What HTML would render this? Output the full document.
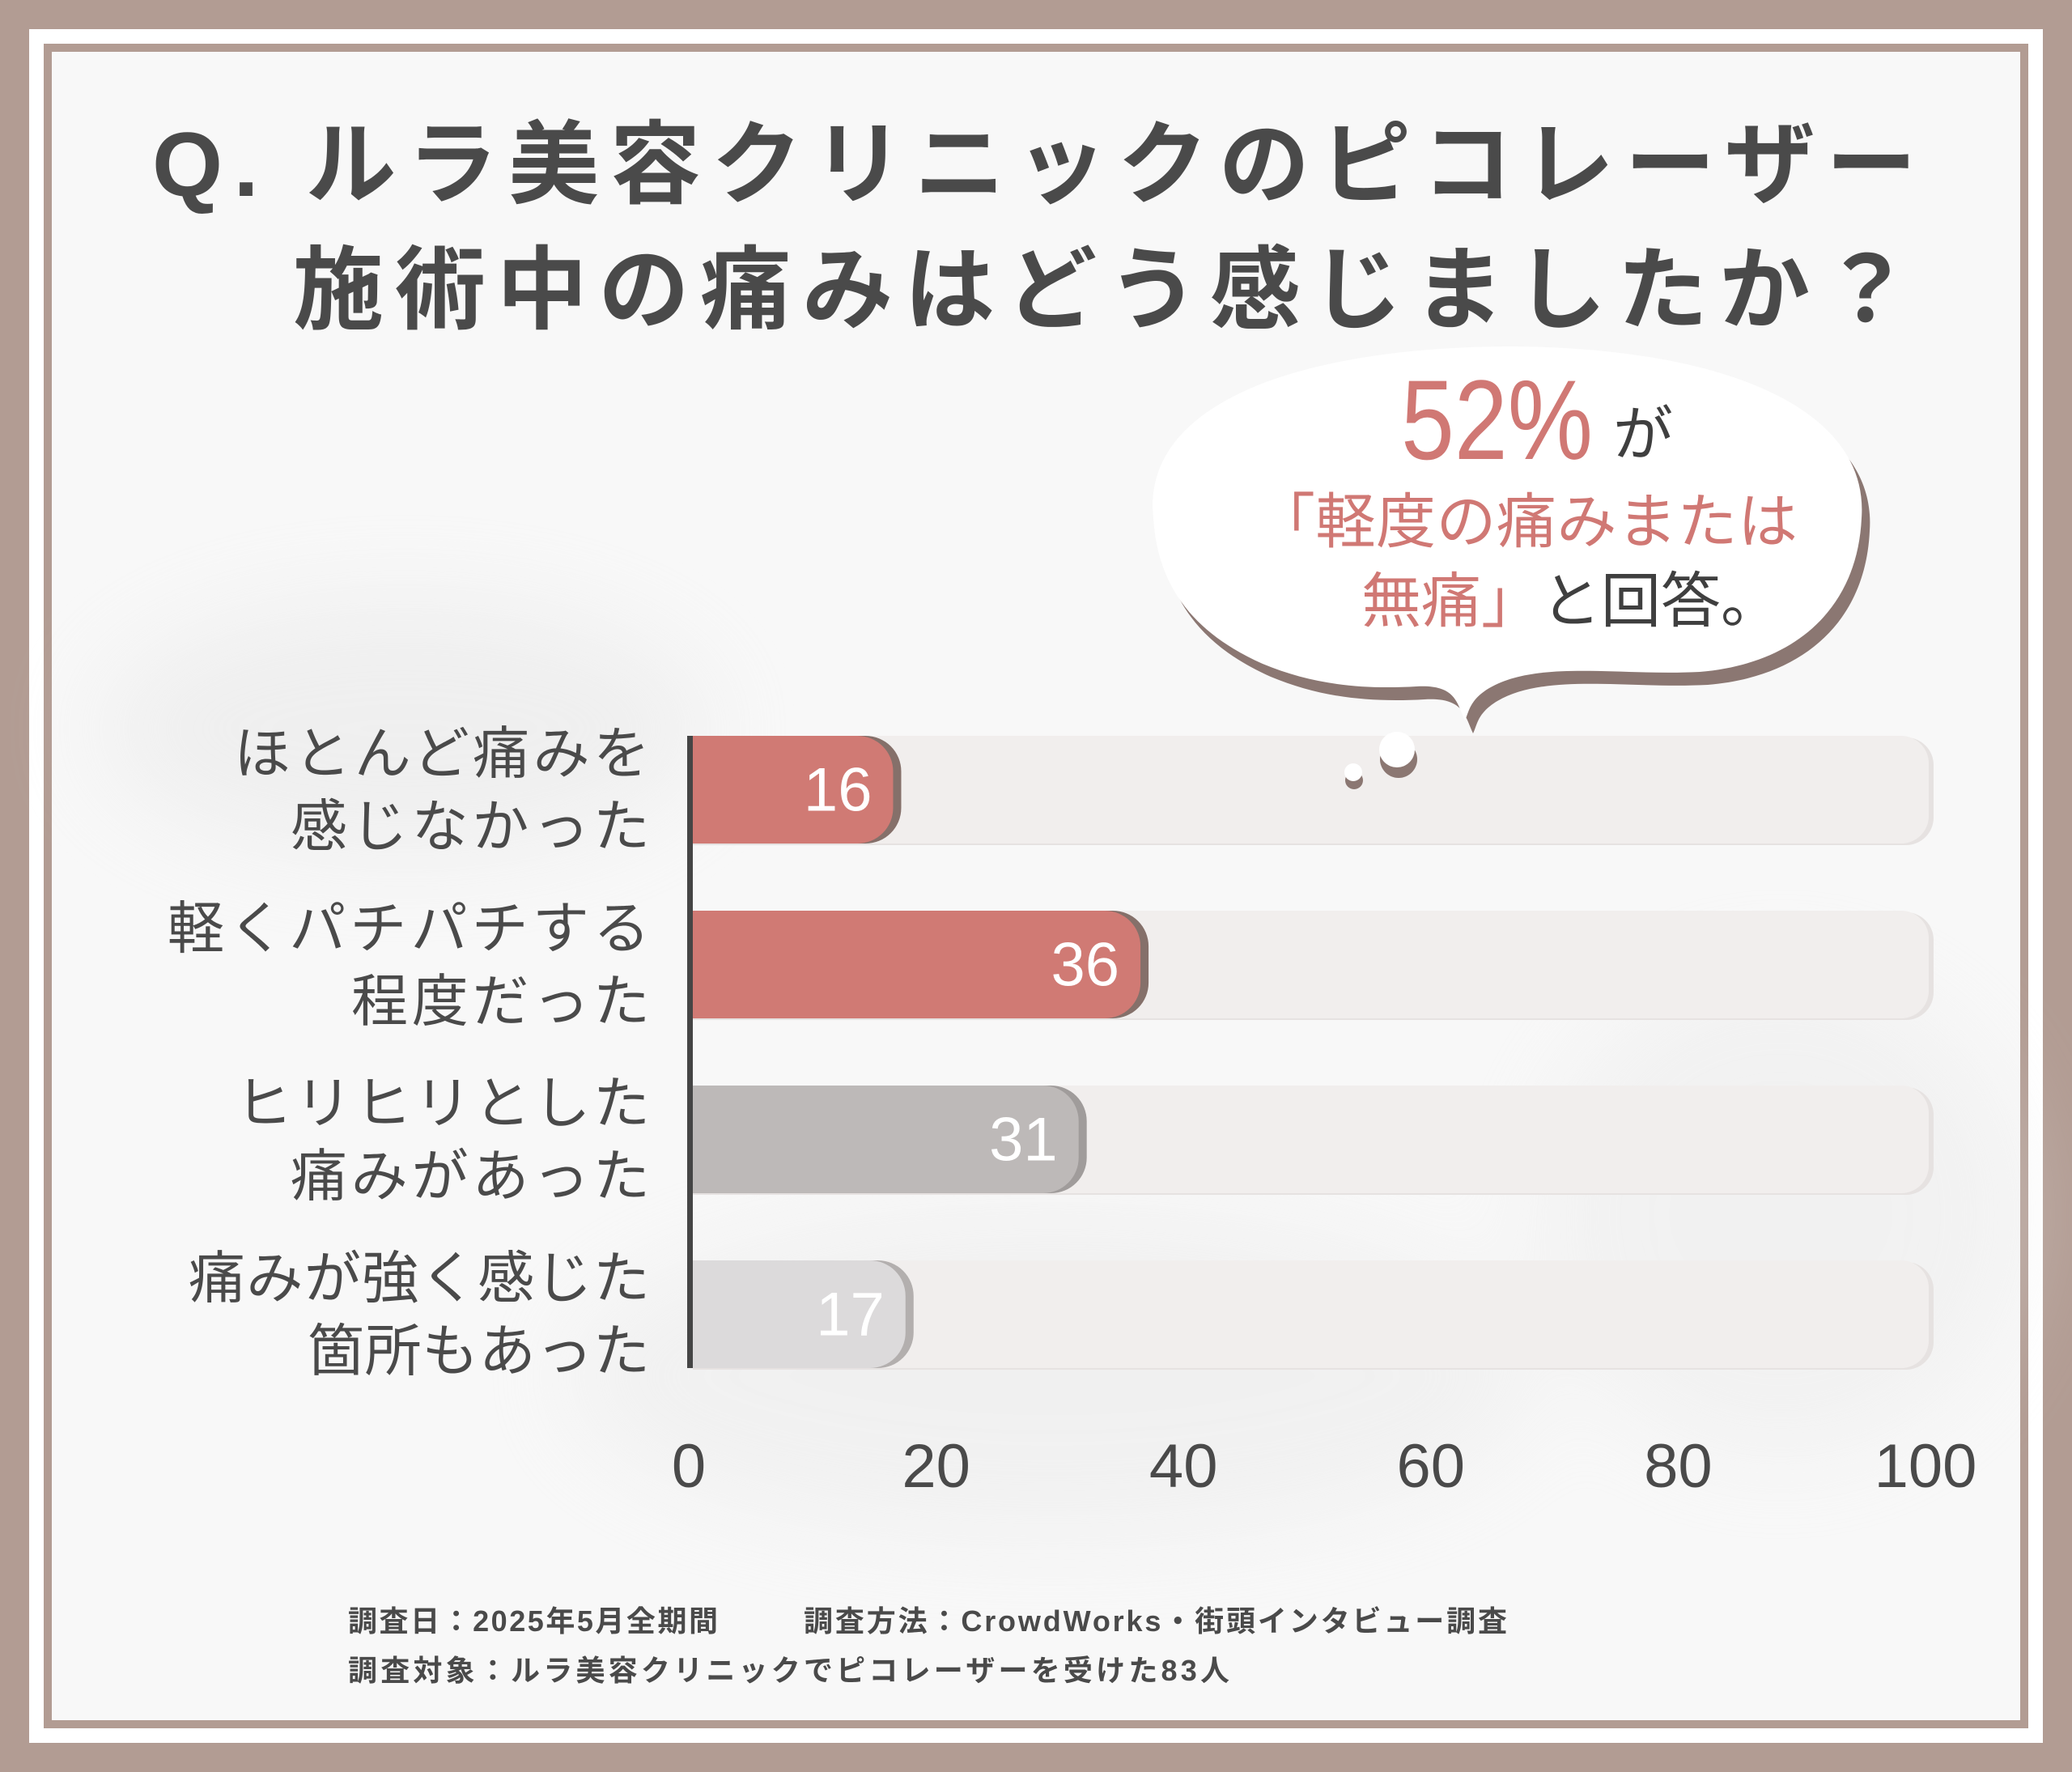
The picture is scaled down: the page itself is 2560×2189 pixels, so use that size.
<!DOCTYPE html>
<html><head><meta charset="utf-8"><style>
html,body{margin:0;padding:0;background:#b29c93}
svg{display:block}
text{font-family:"Liberation Sans","Noto Sans CJK JP",sans-serif}
</style></head><body>
<svg width="2560" height="2189" viewBox="0 0 2560 2189" xmlns="http://www.w3.org/2000/svg">
<defs>
<filter id="blur" x="-20%" y="-20%" width="140%" height="140%"><feGaussianBlur stdDeviation="60"/></filter>
</defs>
<rect x="0" y="0" width="2560" height="2189" fill="#b29c93"/>
<rect x="36" y="36" width="2488" height="2117" fill="#ffffff"/>
<rect x="54" y="54" width="2452" height="2081" fill="#b29c93"/>
<rect x="64" y="64" width="2432" height="2061" fill="#f8f8f8"/>
<g filter="url(#blur)" opacity="0.4">
<ellipse cx="500" cy="900" rx="380" ry="160" fill="#e2e2e2"/>
<ellipse cx="1300" cy="1700" rx="600" ry="200" fill="#e6e6e6"/>
<ellipse cx="2200" cy="1500" rx="300" ry="300" fill="#e8e8e8"/>
</g>
<g fill="#4a4a4a" font-weight="bold" font-size="112">
<text x="188" y="242" textLength="2180" lengthAdjust="spacing">Q. ルラ美容クリニックのピコレーザー</text>
<text x="362" y="397" textLength="2000" lengthAdjust="spacing">施術中の痛みはどう感じましたか？</text>
</g>
<g>
<path transform="translate(10,16)" fill="#8b7772" d="M1425 640 C1410 500 1600 430 1860 428 C2120 428 2310 500 2300 640 C2295 750 2220 820 2100 830 C2000 835 1900 815 1840 850 C1815 865 1815 880 1810 890 C1800 870 1800 845 1750 848 C1680 852 1620 845 1560 820 C1470 780 1430 720 1425 640Z"/>
<path fill="#ffffff" d="M1425 640 C1410 500 1600 430 1860 428 C2120 428 2310 500 2300 640 C2295 750 2220 820 2100 830 C2000 835 1900 815 1840 850 C1815 865 1815 880 1810 890 C1800 870 1800 845 1750 848 C1680 852 1620 845 1560 820 C1470 780 1430 720 1425 640Z"/>
<text x="1731" y="567" font-size="140" fill="#d07874" textLength="237" lengthAdjust="spacingAndGlyphs">52%</text>
<text x="1993" y="562" font-size="74" fill="#3f3f3f">が</text>
<text x="1551" y="670" font-size="74" fill="#d07874" textLength="670" lengthAdjust="spacing">「軽度の痛みまたは</text>
<text x="1682" y="768" font-size="74"><tspan fill="#d07874">無痛」</tspan><tspan fill="#3f3f3f">と回答。</tspan></text>
</g>
<g id="chart"></g>
<g>
<circle cx="1728" cy="938" r="23" fill="#8b7772"/><circle cx="1726" cy="926" r="22" fill="#fff"/>
<circle cx="1673" cy="964" r="11" fill="#8b7772"/><circle cx="1672" cy="954" r="11" fill="#fff"/>
</g>
<g fill="#4a4a4a" font-weight="bold" font-size="36">
<text x="430" y="2015" textLength="457" lengthAdjust="spacing">調査日：2025年5月全期間</text>
<text x="993" y="2015" textLength="869" lengthAdjust="spacing">調査方法：CrowdWorks・街頭インタビュー調査</text>
<text x="430" y="2076" textLength="1089" lengthAdjust="spacing">調査対象：ルラ美容クリニックでピコレーザーを受けた83人</text>
</g>
</svg>
<script>
const categoriesLine1 = ["ほとんど痛みを","軽くパチパチする","ヒリヒリとした","痛みが強く感じた"];
const categoriesLine2 = ["感じなかった","程度だった","痛みがあった","箇所もあった"];
const values = [16, 36, 31, 17];
const tickValues = [0, 20, 40, 60, 80, 100];
const NS = "http://www.w3.org/2000/svg";
const g = document.getElementById('chart');
const xOrigin = 851, unit = 15.28, axisX = 856;
function xScale(v){ return xOrigin + v*unit; }
const rowTop0 = 909, rowStep = 216, barH = 133;
function yScale(i){ return rowTop0 + i*rowStep; }
const fills = ["#d07a74","#d07a74","#bdb9b8","#dcdadb"];
const shades = ["#85706a","#85706a","#a09c9b","#b3afae"];
const w1 = [514,596,512,570], w2 = [444,369,444,423];
function mk(tag, attrs){ const e=document.createElementNS(NS,tag); for(const k in attrs) e.setAttribute(k,attrs[k]); g.appendChild(e); return e; }
function roundRight(x0,y,x1,h,r){ return `M${x0} ${y} H${x1-r} A${r} ${r} 0 0 1 ${x1} ${y+r} V${y+h-r} A${r} ${r} 0 0 1 ${x1-r} ${y+h} H${x0} Z`; }
values.forEach((v,i)=>{
  const y = yScale(i);
  const trackEnd = xScale(100)+4;
  const ts = mk('path',{d:roundRight(axisX,y+2,trackEnd+6,barH,34),fill:"#e6e2e1"});
   
  const tr = mk('path',{d:roundRight(axisX,y,trackEnd,barH,34),fill:"#f1eeed"});
   
  const end = xScale(v) + 8;
  const sh = mk('path',{d:roundRight(axisX,y,end+10,barH,44),fill:shades[i]});
   
  const b = mk('path',{d:roundRight(axisX,y,end,barH,44),fill:fills[i]});
   
  const t = mk('text',{x:end-26,y:y+barH/2+26,'text-anchor':'end','font-size':76,fill:'#ffffff'});
   
  t.textContent = v;
  const l1 = mk('text',{x:803,y:y+46,'text-anchor':'end','font-size':70,fill:'#4a4a4a',textLength:w1[i],lengthAdjust:'spacing'});
   
  l1.textContent = categoriesLine1[i];
  const l2 = mk('text',{x:803,y:y+136,'text-anchor':'end','font-size':70,fill:'#4a4a4a',textLength:w2[i],lengthAdjust:'spacing'});
   
  l2.textContent = categoriesLine2[i];
});
const ax = mk('rect',{x:axisX-7,y:yScale(0),width:7,height:yScale(3)+barH-yScale(0),fill:'#454545'});
 
tickValues.forEach(t=>{
  const e = mk('text',{x:xScale(t),y:1837,'text-anchor':'middle','font-size':76,fill:'#4a4a4a'});
   
  e.textContent = t;
});
</script>
</body></html>
